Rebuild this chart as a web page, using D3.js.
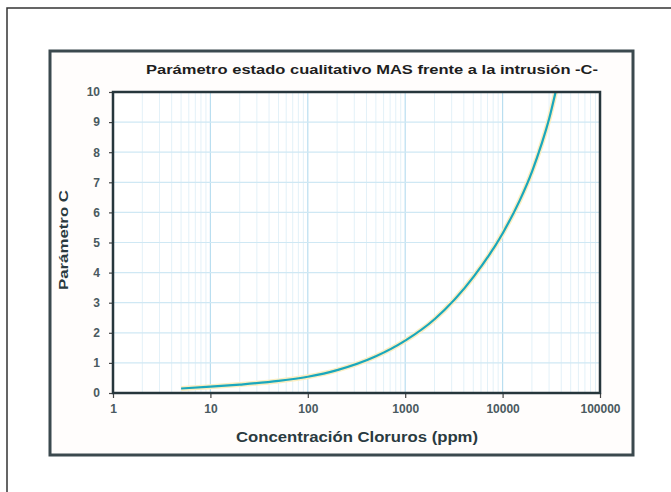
<!DOCTYPE html>
<html>
<head>
<meta charset="utf-8">
<script src="https://cdn.jsdelivr.net/npm/d3@7"></script>
<style>
  body { margin: 0; background: #fff; }
  svg { display: block; font-family: "Liberation Sans", Arial, sans-serif; }
</style>
</head>
<body>
<svg id="chart" width="671" height="492"></svg>
<script>
const cloruros = [5, 10, 20, 50, 100, 200, 500, 1000, 2000, 5000, 10000, 15000, 20000, 25000, 30000, 35000];
const paramC = [0.15, 0.21, 0.28, 0.4, 0.54, 0.76, 1.22, 1.74, 2.45, 3.85, 5.3, 6.4, 7.35, 8.25, 9.1, 10.0];
const xTicks = [1, 10, 100, 1000, 10000, 100000];
const yTicks = [0, 1, 2, 3, 4, 5, 6, 7, 8, 9, 10];

const title = "Parámetro estado cualitativo MAS frente a la intrusión -C-";
const xLabel = "Concentración Cloruros (ppm)";
const yLabel = "Parámetro C";

const svg = d3.select("#chart");
const margin = { left: 113, top: 92, right: 71, bottom: 99 };
const width = +svg.attr("width");
const height = +svg.attr("height");
const innerWidth = width - margin.left - margin.right;
const innerHeight = height - margin.top - margin.bottom;

// outer page border (top and left only visible)
svg.append("path")
    .attr("d", "M7,492V8H671")
    .attr("fill", "none")
    .attr("stroke", "#333")
    .attr("stroke-width", 1.5);

// chart area
svg.append("rect")
    .attr("x", 50).attr("y", 51)
    .attr("width", 583).attr("height", 404)
    .attr("fill", "#fffdfc")
    .attr("stroke", "#3b494e")
    .attr("stroke-width", 3);

const x = d3.scaleLog().domain([1, 100000]).range([0, innerWidth]);
const y = d3.scaleLinear().domain([0, 10]).range([innerHeight, 0]);

const g = svg.append("g").attr("transform", "translate(" + margin.left + "," + margin.top + ")");

g.append("rect")
    .attr("width", innerWidth).attr("height", innerHeight)
    .attr("fill", "#fff");

// minor vertical grid
const minor = [];
for (let d = 1; d < 100000; d *= 10) {
  for (let k = 2; k <= 9; k++) minor.push(d * k);
}
g.append("g").selectAll("line").data(minor).join("line")
    .attr("x1", d => x(d)).attr("x2", d => x(d))
    .attr("y1", 0).attr("y2", innerHeight)
    .attr("stroke", "#e3f1f8").attr("stroke-width", 1);

// major grid
g.append("g").selectAll("line").data(xTicks).join("line")
    .attr("x1", d => x(d)).attr("x2", d => x(d))
    .attr("y1", 0).attr("y2", innerHeight)
    .attr("stroke", "#b9def0").attr("stroke-width", 1.2);
g.append("g").selectAll("line").data(yTicks).join("line")
    .attr("x1", 0).attr("x2", innerWidth)
    .attr("y1", d => y(d)).attr("y2", d => y(d))
    .attr("stroke", "#cfe8f4").attr("stroke-width", 1.2);

// curve
const line = d3.line()
    .x((d, i) => x(cloruros[i]))
    .y(d => y(d))
    .curve(d3.curveMonotoneX);

g.append("path")
    .datum(paramC)
    .attr("fill", "none")
    .attr("stroke", "#fbeec0")
    .attr("stroke-width", 5)
    .attr("d", line);
g.append("path")
    .datum(paramC)
    .attr("fill", "none")
    .attr("stroke", "#1aa7bd")
    .attr("stroke-width", 2.2)
    .attr("stroke-linejoin", "round")
    .attr("d", line);

// axes
const xAxis = g.append("g")
    .attr("transform", "translate(0," + innerHeight + ")")
    .call(d3.axisBottom(x).tickValues(xTicks).tickFormat(d3.format("d")).tickSize(5).tickPadding(6));
const yAxis = g.append("g")
    .call(d3.axisLeft(y).tickValues(yTicks).tickSize(4).tickPadding(9));

[xAxis, yAxis].forEach(a => {
  a.select(".domain").remove();
  a.selectAll(".tick line").attr("stroke", "#444").attr("stroke-width", 1.2);
  a.selectAll(".tick text")
      .attr("fill", "#4a5a60")
      .attr("font-size", 12)
      .attr("font-weight", "bold")
      .attr("font-family", "Liberation Sans, Arial, sans-serif");
});

// plot frame
g.append("rect")
    .attr("width", innerWidth).attr("height", innerHeight)
    .attr("fill", "none")
    .attr("stroke", "#26363c")
    .attr("stroke-width", 2.5);

// titles
svg.append("text")
    .attr("x", 372).attr("y", 74)
    .attr("text-anchor", "middle")
    .attr("font-size", 13)
    .attr("font-weight", "bold")
    .attr("fill", "#1e1e1e")
    .attr("textLength", 452)
    .attr("lengthAdjust", "spacingAndGlyphs")
    .text(title);

svg.append("text")
    .attr("x", 357).attr("y", 442)
    .attr("text-anchor", "middle")
    .attr("font-size", 14)
    .attr("font-weight", "bold")
    .attr("fill", "#2a3a40")
    .attr("textLength", 242)
    .attr("lengthAdjust", "spacingAndGlyphs")
    .text(xLabel);

svg.append("text")
    .attr("transform", "translate(68,240) rotate(-90)")
    .attr("text-anchor", "middle")
    .attr("font-size", 13)
    .attr("font-weight", "bold")
    .attr("fill", "#2a3a40")
    .attr("textLength", 100)
    .attr("lengthAdjust", "spacingAndGlyphs")
    .text(yLabel);
</script>
</body>
</html>
